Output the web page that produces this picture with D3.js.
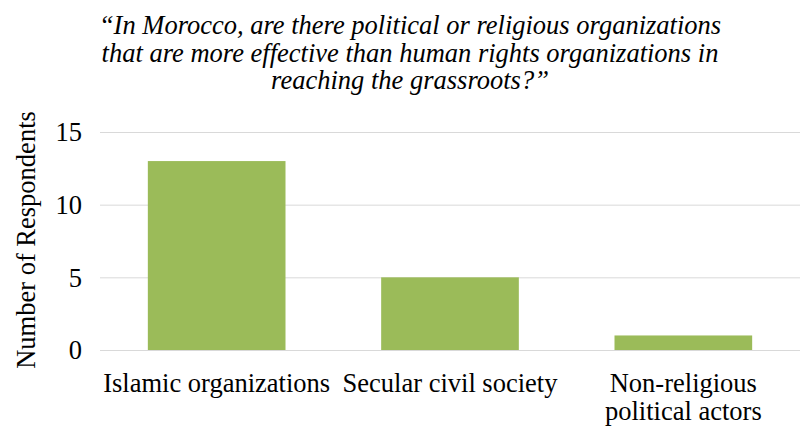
<!DOCTYPE html>
<html><head><meta charset="utf-8">
<script src="https://cdn.jsdelivr.net/npm/d3@7"></script>
<style>body{margin:0;background:#fff}svg{display:block}</style>
</head><body>
<script>
const categories = ["Islamic organizations", "Secular civil society", "Non-religious political actors"];
const categoryLines = [["Islamic organizations"], ["Secular civil society"], ["Non-religious", "political actors"]];
const values = [13, 5, 1];
const yTicks = [0, 5, 10, 15];
const titleLines = ["\u201cIn Morocco, are there political or religious organizations", "that are more effective than human rights organizations in", "reaching the grassroots?\u201d"];
const yTitle = "Number of Respondents";

const W = 801, H = 428;
const svg = d3.select("body").append("svg").attr("width", W).attr("height", H);
const font = "Times New Roman";
const fs = "26.5px";

const x = d3.scaleBand().domain(categories).range([100, 800]).paddingInner(0.41).paddingOuter(0.205);
const y = d3.scaleLinear().domain([0, 15]).range([350, 132]);

// gridlines
svg.append("g").selectAll("line").data(yTicks).join("line")
  .attr("x1", 100).attr("x2", 800)
  .attr("y1", d => y(d) + 0.5).attr("y2", d => y(d) + 0.5)
  .attr("stroke", "#d9d9d9").attr("stroke-width", 1);

// bars
svg.append("g").selectAll("rect").data(values).join("rect")
  .attr("x", (d, i) => x(categories[i]))
  .attr("width", x.bandwidth())
  .attr("y", d => y(d))
  .attr("height", d => y(0) - y(d))
  .attr("fill", "#9bbb59");

// y axis labels
const yAxis = d3.axisLeft(y).tickValues(yTicks).tickSize(0).tickPadding(0);
const gy = svg.append("g").attr("transform", "translate(82,0)").call(yAxis);
gy.select(".domain").remove();
gy.attr("font-family", null).attr("font-size", null);
gy.selectAll("text").style("font-family", font).style("font-size", fs).attr("fill", "#000").attr("dy", "0.33em").attr("x", 0);

// x labels
const gx = svg.append("g");
categories.forEach((c, i) => {
  const cx = x(c) + x.bandwidth() / 2;
  const t = gx.append("text").attr("x", cx).attr("y", 392).attr("text-anchor", "middle")
    .style("font-family", font).style("font-size", fs).attr("fill", "#000");
  categoryLines[i].forEach((ln, j) => {
    t.append("tspan").attr("x", cx).attr("dy", j === 0 ? 0 : 28).text(ln);
  });
});

// y title
svg.append("text").attr("transform", "translate(35,240) rotate(-90)")
  .attr("text-anchor", "middle").style("font-family", font).style("font-size", fs).attr("fill", "#000")
  .text(yTitle);

// title
svg.append("g").selectAll("text").data(titleLines).join("text")
  .attr("x", 410).attr("y", (d, i) => 34 + i * 27.5)
  .attr("text-anchor", "middle").style("font-family", font).style("font-style", "italic")
  .style("font-size", fs).attr("fill", "#000").text(d => d);
</script>
</body></html>
